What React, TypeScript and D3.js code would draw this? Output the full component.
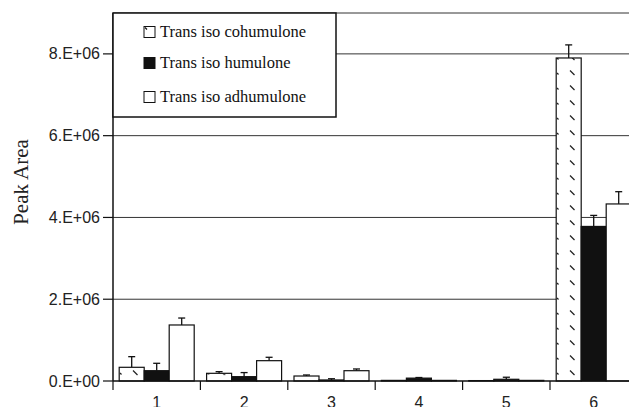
import * as d3 from 'd3'
import React from 'react'

const categories = ['1', '2', '3', '4', '5', '6']
const series = ['Trans iso cohumulone', 'Trans iso humulone', 'Trans iso adhumulone']
const cohumulone = [335000, 188000, 122000, 15000, 10000, 7900000]
const cohumuloneErr = [260000, 40000, 25000, 0, 0, 320000]
const humulone = [252000, 106000, 25000, 70000, 42000, 3780000]
const humuloneErr = [181000, 100000, 30000, 15000, 50000, 270000]
const adhumulone = [1370000, 497000, 252000, 15000, 15000, 4330000]
const adhumuloneErr = [170000, 83000, 42000, 0, 0, 300000]
const yTicks = [0, 2e6, 4e6, 6e6, 8e6]
const yTickLabels = ['0.E+00', '2.E+06', '4.E+06', '6.E+06', '8.E+06']

const values = [cohumulone, humulone, adhumulone]
const errors = [cohumuloneErr, humuloneErr, adhumuloneErr]
const fills = ['url(#hatch)', '#111', '#fff']

const W = 629
const H = 407
const left = 113
const top = 13
const bottom = 381

const y = d3.scaleLinear().domain([0, 9e6]).range([bottom, top])
const x0 = d3.scaleBand().domain(categories).range([left, 637.4]).padding(0)
const x1 = d3.scaleBand().domain(series).range([0, x0.bandwidth()]).paddingInner(0).paddingOuter(0.248)

const sans = '"Liberation Sans", Arial, sans-serif'
const serif = '"Liberation Serif", "Times New Roman", serif'

export default function App() {
  const gridVals = [...yTicks.slice(1), 9e6]
  return (
    <svg width={W} height={H} style={{ position: 'absolute', left: 0, top: 0, background: '#fff' }}>
      <defs>
        <pattern id="hatch" patternUnits="userSpaceOnUse" width={25} height={15} x={556} y={70}>
          <rect width={25} height={15} fill="#fff" />
          <line x1={1} y1={3} x2={2.5} y2={4.5} stroke="#222" strokeWidth={1.3} />
          <line x1={14} y1={0.5} x2={18.5} y2={5} stroke="#222" strokeWidth={1.3} />
        </pattern>
      </defs>

      {/* gridlines */}
      {gridVals.map(v => (
        <line key={v} x1={left} x2={W} y1={y(v)} y2={y(v)} stroke="#333" strokeWidth={1} />
      ))}

      {/* bars */}
      {categories.map((c, i) => (
        <g key={c} transform={`translate(${x0(c)},0)`}>
          {series.map((s, j) => {
            const v = values[j][i]
            const e = errors[j][i]
            const bx = x1(s) as number
            const bw = x1.bandwidth()
            const cx = bx + bw / 2
            return (
              <g key={s}>
                {e > 0 && (
                  <g stroke="#111" strokeWidth={1.3}>
                    <line x1={cx} x2={cx} y1={y(v)} y2={y(v + e)} />
                    <line x1={cx - 3.5} x2={cx + 3.5} y1={y(v + e)} y2={y(v + e)} />
                  </g>
                )}
                <rect x={bx} y={y(v)} width={bw} height={y(0) - y(v)} fill={fills[j]} stroke="#111" strokeWidth={1.2} />
              </g>
            )
          })}
        </g>
      ))}

      {/* axes */}
      <line x1={left} x2={left} y1={top} y2={bottom} stroke="#111" strokeWidth={1.5} />
      <line x1={left} x2={W} y1={bottom} y2={bottom} stroke="#111" strokeWidth={1.5} />
      {yTicks.map((v, i) => (
        <g key={v}>
          <line x1={left - 10} x2={left} y1={y(v)} y2={y(v)} stroke="#111" strokeWidth={1.2} />
          <text x={left - 13} y={y(v)} dy="0.35em" textAnchor="end" fontFamily={sans} fontSize={16} fill="#222">
            {yTickLabels[i]}
          </text>
        </g>
      ))}
      {categories.map(c => (
        <g key={c}>
          <line x1={x0(c)} x2={x0(c)} y1={bottom} y2={bottom + 9} stroke="#111" strokeWidth={1.2} />
          <text x={(x0(c) as number) + x0.bandwidth() / 2} y={408} textAnchor="middle" fontFamily={sans} fontSize={16} fill="#222">
            {c}
          </text>
        </g>
      ))}
      <text transform={`translate(28,182) rotate(-90)`} textAnchor="middle" fontFamily={serif} fontSize={21} fill="#222">
        Peak Area
      </text>

      {/* legend */}
      <rect x={left} y={top} width={223} height={104} fill="#fff" stroke="#111" strokeWidth={1.5} />
      {series.map((s, j) => {
        const cy = [32, 63, 97][j]
        return (
          <g key={s}>
            <rect x={144} y={cy - 5.5} width={11} height={11} fill={j === 0 ? '#fff' : fills[j]} stroke="#111" strokeWidth={1} />
            {j === 0 && <line x1={145} y1={cy - 4.5} x2={147} y2={cy - 2.5} stroke="#111" strokeWidth={1.3} />}
            <text x={160} y={cy} dy="0.33em" fontFamily={serif} fontSize={16.5} fill="#111">
              {s}
            </text>
          </g>
        )
      })}
    </svg>
  )
}
